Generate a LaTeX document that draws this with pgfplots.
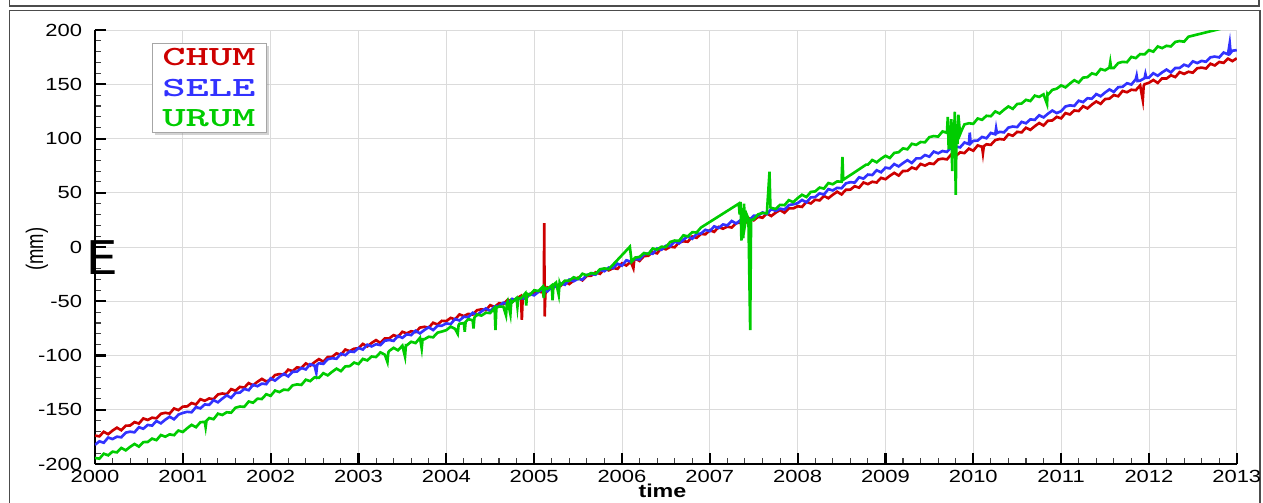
\documentclass[border=0pt]{standalone}
\usepackage{pgfplots}
\pgfplotsset{compat=1.18}
\usepackage{fontspec}
\setmainfont{Liberation Sans}[FakeStretch=1.25]
\newfontfamily\plainsans{Liberation Sans}
\usetikzlibrary{shadows}
\definecolor{chum}{RGB}{205,0,0}
\definecolor{sele}{RGB}{50,50,255}
\definecolor{urum}{RGB}{0,204,0}

\begin{document}
\begin{tikzpicture}[x=0.02cm,y=0.02cm]
\path[use as bounding box] (0,0) rectangle (1263,503);
% outer frames
\draw[line width=0.8pt, black!70] (9.5,506) -- (9.5,497) -- (1259,497) -- (1259,506);
\draw[line width=0.8pt, black!70] (9.5,-3) -- (9.5,492.3) -- (1260,492.3) -- (1260,-3);

\begin{axis}[
    at={(1.9cm,0.78cm)}, anchor=south west,
    scale only axis, width=22.84cm, height=8.68cm,
    xmin=2000, xmax=2013, ymin=-200, ymax=200,
    axis lines*=left,
    axis line style={-, line width=1.2pt, black},
    xtick={2000,2001,2002,2003,2004,2005,2006,2007,2008,2009,2010,2011,2012,2013},
    xticklabels={2000,2001,2002,2003,2004,2005,2006,2007,2008,2009,2010,2011,2012,2013},
    ytick={-200,-150,-100,-50,0,50,100,150,200},
    yticklabels={-200,-150,-100,-50,0,50,100,150,200},
    minor x tick num=4, minor y tick num=4,
    tick align=inside,
    major tick length=0.22cm, minor tick length=0.12cm,
    every major tick/.append style={line width=1.2pt, black},
    every minor tick/.append style={line width=0.6pt, black!75},
    xmajorgrids, ymajorgrids,
    grid style={line width=0.5pt, black!14},
    tick label style={font=\fontsize{10}{12}\selectfont},
    yticklabel style={xshift=-3.8pt},
    xlabel={time},
    every axis x label/.style={at={(axis description cs:0.497,-0.0622)}, anchor=center,
        font=\bfseries\fontsize{10.6}{12}\selectfont},
    ylabel={\scalebox{1}[1.3]{\plainsans (mm)}},
    every axis y label/.style={at={(axis description cs:-0.0508,0.495)}, rotate=90, anchor=center,
        font=\fontsize{10.5}{12}\selectfont},
]
% CHUM
\addplot[chum, line width=1.5pt] coordinates {
(2000.00,-173.8) (2000.05,-174.5) (2000.10,-170.3) (2000.15,-172.5) (2000.20,-169.2)
(2000.25,-166.5) (2000.30,-168.9) (2000.35,-164.7) (2000.40,-164.5) (2000.45,-161.4)
(2000.50,-162.7) (2000.55,-158.0) (2000.60,-159.4) (2000.65,-157.3) (2000.70,-157.9)
(2000.75,-153.7) (2000.80,-152.8) (2000.85,-153.5) (2000.90,-148.8) (2000.95,-150.3)
(2001.00,-147.1) (2001.05,-146.9) (2001.10,-143.8) (2001.15,-145.1) (2001.20,-140.3)
(2001.25,-141.7) (2001.30,-139.6) (2001.35,-140.2) (2001.40,-135.9) (2001.45,-135.0)
(2001.50,-135.7) (2001.55,-131.0) (2001.60,-132.4) (2001.65,-128.9) (2001.70,-129.6)
(2001.75,-125.4) (2001.80,-127.5) (2001.85,-124.2) (2001.90,-121.5) (2001.95,-123.9)
(2002.00,-122.3) (2002.05,-118.0) (2002.10,-117.1) (2002.15,-117.7) (2002.20,-113.0)
(2002.25,-114.4) (2002.30,-110.9) (2002.35,-111.5) (2002.40,-107.3) (2002.45,-109.4)
(2002.50,-106.1) (2002.55,-103.3) (2002.60,-105.7) (2002.65,-101.4) (2002.70,-101.2)
(2002.75,-98.0) (2002.80,-99.3) (2002.85,-94.5) (2002.90,-95.9) (2002.95,-93.7)
(2003.00,-93.3) (2003.05,-89.3) (2003.10,-91.6) (2003.15,-88.4) (2003.20,-85.8)
(2003.25,-88.4) (2003.30,-84.3) (2003.35,-84.2) (2003.40,-81.2) (2003.45,-82.7)
(2003.50,-78.1) (2003.55,-79.6) (2003.60,-77.6) (2003.65,-78.4) (2003.70,-74.3)
(2003.75,-73.5) (2003.80,-74.3) (2003.85,-69.8) (2003.90,-71.4) (2003.95,-68.0)
(2004.00,-68.3) (2004.05,-65.3) (2004.10,-66.7) (2004.15,-62.1) (2004.20,-63.6)
(2004.25,-61.6) (2004.30,-62.3) (2004.35,-58.2) (2004.40,-57.4) (2004.45,-58.2)
(2004.50,-53.6) (2004.55,-55.2) (2004.60,-51.8) (2004.65,-52.6) (2004.70,-48.5)
(2004.75,-50.8) (2004.80,-47.6) (2004.85,-45.0) (2004.86,-67) (2004.87,-46.5)
(2004.90,-47.5) (2004.95,-43.4)
(2005.00,-41.9) (2005.05,-41.1) (2005.10,-41.8)
(2005.11,-46) (2005.115,22) (2005.12,-64) (2005.125,-50) (2005.13,-41)
(2005.15,-37.2) (2005.20,-38.7) (2005.25,-35.3) (2005.30,-36.0) (2005.35,-31.9)
(2005.40,-34.1) (2005.45,-30.9) (2005.50,-28.2) (2005.55,-30.7) (2005.60,-26.5)
(2005.65,-26.4) (2005.70,-23.3) (2005.75,-24.7) (2005.80,-20.0) (2005.85,-21.5)
(2005.90,-19.4) (2005.95,-20.1)
(2006.00,-15.0) (2006.05,-17.0) (2006.10,-13.5) (2006.13,-19.5) (2006.14,-12)
(2006.15,-10.6) (2006.20,-12.8) (2006.25,-8.4) (2006.30,-8.0) (2006.35,-4.7)
(2006.40,-5.8) (2006.45,-0.9) (2006.50,-2.1) (2006.55,0.3) (2006.60,-0.2)
(2006.65,4.3) (2006.70,5.3) (2006.75,4.9) (2006.80,9.7) (2006.85,8.5)
(2006.90,12.1) (2006.95,11.7)
(2007.00,15.5) (2007.05,14.0) (2007.10,18.5) (2007.15,16.9) (2007.20,18.8)
(2007.25,18.0) (2007.30,22.0) (2007.35,22.7) (2007.40,21.8) (2007.45,26.3)
(2007.50,24.6) (2007.55,27.9) (2007.60,27.0) (2007.65,31.0) (2007.70,28.6)
(2007.75,31.7) (2007.80,34.2) (2007.85,31.6) (2007.90,35.6) (2007.95,35.6)
(2008.00,37.6) (2008.05,37.0) (2008.10,41.6) (2008.15,40.2) (2008.20,43.6)
(2008.25,43.0) (2008.30,47.1) (2008.35,45.0) (2008.40,48.2) (2008.45,51.0)
(2008.50,48.5) (2008.55,52.8) (2008.60,52.9) (2008.65,56.1) (2008.70,54.7)
(2008.75,59.5) (2008.80,58.0) (2008.85,60.2) (2008.90,59.5) (2008.95,63.8)
(2009.00,62.5) (2009.05,65.7) (2009.10,68.4) (2009.15,65.9) (2009.20,70.1)
(2009.25,70.2) (2009.30,73.3) (2009.35,71.9) (2009.40,76.6) (2009.45,75.1)
(2009.50,77.2) (2009.55,76.5) (2009.60,80.7) (2009.65,81.5) (2009.70,80.8)
(2009.75,85.4) (2009.80,83.9) (2009.85,87.3) (2009.90,86.6) (2009.95,90.7)
(2010.00,88.8) (2010.05,93.7) (2010.10,92.4) (2010.11,86.5) (2010.12,93.0)
(2010.15,94.7) (2010.20,94.2) (2010.25,98.6) (2010.30,99.6) (2010.35,99.1)
(2010.40,103.9) (2010.45,102.6) (2010.50,106.2) (2010.55,105.7) (2010.60,110.0)
(2010.65,108.0) (2010.70,111.4) (2010.75,114.3) (2010.80,112.0) (2010.85,116.4)
(2010.90,116.7) (2010.95,120.0)
(2011.00,118.6) (2011.05,123.5) (2011.10,122.2) (2011.15,125.9) (2011.20,125.4)
(2011.25,129.8) (2011.30,127.8) (2011.35,131.3) (2011.40,134.2) (2011.45,132.0)
(2011.50,136.4) (2011.55,136.8) (2011.60,140.1) (2011.65,139.0) (2011.70,143.9)
(2011.75,142.7) (2011.80,145.0) (2011.85,144.6) (2011.90,149.0) (2011.93,135.5)
(2011.94,148.5) (2011.95,150.1)
(2012.00,151.4) (2012.05,154.0) (2012.10,151.3) (2012.15,155.4) (2012.20,155.3)
(2012.25,158.3) (2012.30,156.7) (2012.35,161.3) (2012.40,159.6) (2012.45,161.6)
(2012.50,160.7) (2012.55,164.8) (2012.60,165.4) (2012.65,164.6) (2012.70,169.0)
(2012.75,167.4) (2012.80,170.6) (2012.85,169.8) (2012.90,173.7) (2012.95,171.4)
(2013.00,174.0)
};
% SELE
\addplot[sele, line width=1.5pt] coordinates {
(2000.00,-182.3) (2000.05,-179.1) (2000.10,-180.4) (2000.15,-175.6) (2000.20,-177.0)
(2000.25,-174.8) (2000.30,-175.4) (2000.35,-171.1) (2000.40,-170.2) (2000.45,-170.8)
(2000.50,-166.1) (2000.55,-167.5) (2000.60,-164.0) (2000.65,-164.6) (2000.70,-160.4)
(2000.75,-162.5) (2000.80,-159.2) (2000.85,-156.4) (2000.90,-158.8) (2000.95,-154.5)
(2001.00,-152.9) (2001.05,-151.9) (2001.10,-152.3) (2001.15,-147.5) (2001.20,-148.7)
(2001.25,-145.1) (2001.30,-145.5) (2001.35,-141.2) (2001.40,-143.1) (2001.45,-139.7)
(2001.50,-136.7) (2001.55,-139.0) (2001.60,-134.5) (2001.65,-134.2) (2001.70,-130.8)
(2001.75,-132.0) (2001.80,-127.0) (2001.85,-128.3) (2001.90,-125.9) (2001.95,-126.4)
(2002.00,-121.0) (2002.05,-123.1) (2002.10,-119.8) (2002.15,-116.9) (2002.20,-119.3)
(2002.25,-115.0) (2002.30,-114.8) (2002.35,-111.5) (2002.40,-112.8) (2002.45,-108.0)
(2002.50,-109.4) (2002.52,-116) (2002.53,-108.5)
(2002.55,-107.1) (2002.60,-107.7) (2002.65,-103.4) (2002.70,-102.5) (2002.75,-103.0)
(2002.80,-98.3) (2002.85,-99.7) (2002.90,-96.2) (2002.95,-96.7)
(2003.00,-93.0) (2003.05,-94.5) (2003.10,-90.0) (2003.15,-91.6) (2003.20,-89.6)
(2003.25,-90.4) (2003.30,-86.4) (2003.35,-85.7) (2003.40,-86.5) (2003.45,-82.0)
(2003.50,-83.7) (2003.55,-80.4) (2003.60,-81.2) (2003.65,-77.2) (2003.70,-79.6)
(2003.75,-76.5) (2003.80,-73.9) (2003.85,-76.5) (2003.90,-72.5) (2003.95,-72.5)
(2004.00,-70.4) (2004.05,-71.0) (2004.10,-66.3) (2004.15,-67.7) (2004.20,-64.2)
(2004.25,-64.8) (2004.30,-60.6) (2004.35,-62.7) (2004.40,-59.4) (2004.45,-56.6)
(2004.50,-59.0) (2004.55,-54.7) (2004.60,-54.5) (2004.65,-51.3) (2004.70,-52.6)
(2004.75,-47.8) (2004.80,-49.2) (2004.85,-47.0) (2004.90,-47.6) (2004.95,-43.3)
(2005.00,-44.5) (2005.05,-41.3) (2005.10,-38.5) (2005.15,-41.0) (2005.20,-36.7)
(2005.25,-36.6) (2005.30,-33.4) (2005.35,-34.8) (2005.40,-30.0) (2005.45,-31.5)
(2005.50,-29.3) (2005.55,-30.0) (2005.60,-25.7) (2005.65,-24.9) (2005.70,-25.5)
(2005.75,-20.9) (2005.80,-22.3) (2005.85,-18.9) (2005.90,-19.5) (2005.95,-15.4)
(2006.00,-17.2) (2006.05,-12.2) (2006.10,-13.4) (2006.15,-11.0) (2006.20,-11.4)
(2006.25,-6.9) (2006.30,-5.8) (2006.35,-6.2) (2006.40,-1.3) (2006.45,-2.5)
(2006.50,1.2) (2006.55,0.8) (2006.60,5.2) (2006.65,3.3) (2006.70,6.8)
(2006.75,9.8) (2006.80,7.6) (2006.85,12.1) (2006.90,12.5) (2006.95,15.9)
(2007.00,14.6) (2007.05,19.1) (2007.10,17.5) (2007.15,20.8) (2007.20,20.0)
(2007.25,24.0) (2007.30,21.7) (2007.35,24.8) (2007.40,27.4) (2007.45,24.8)
(2007.50,28.9) (2007.55,28.9) (2007.60,31.9) (2007.65,30.4) (2007.70,35.0)
(2007.75,33.4) (2007.80,35.4) (2007.85,34.6) (2007.90,38.7) (2007.95,39.4)
(2008.00,40.4) (2008.05,43.4) (2008.10,41.2) (2008.15,45.7) (2008.20,46.1)
(2008.25,49.5) (2008.30,48.4) (2008.35,53.4) (2008.40,52.2) (2008.45,54.6)
(2008.50,54.2) (2008.55,58.7) (2008.60,59.8) (2008.65,59.4) (2008.70,64.3)
(2008.75,63.1) (2008.80,66.8) (2008.85,66.4) (2008.90,70.8) (2008.95,68.9)
(2009.00,73.2) (2009.05,72.5) (2009.10,76.5) (2009.15,74.3) (2009.20,77.4)
(2009.25,80.1) (2009.30,77.5) (2009.35,81.7) (2009.40,81.7) (2009.45,84.8)
(2009.50,83.3) (2009.55,88.0) (2009.60,86.4) (2009.65,88.5) (2009.70,87.7)
(2009.75,91.9) (2009.80,92.6) (2009.85,91.9) (2009.90,96.4) (2009.95,94.9)
(2009.96,105.5) (2009.97,95.5)
(2010.00,97.9) (2010.05,98.2) (2010.10,101.5) (2010.15,100.3) (2010.20,105.2)
(2010.25,103.9) (2010.26,109.5) (2010.27,105.0)
(2010.30,106.2) (2010.35,105.7) (2010.40,110.1) (2010.45,111.1) (2010.50,110.6)
(2010.55,115.4) (2010.60,114.1) (2010.65,117.7) (2010.70,117.2) (2010.75,121.5)
(2010.80,119.5) (2010.85,122.9) (2010.90,125.8) (2010.95,123.5)
(2011.00,125.2) (2011.05,129.6) (2011.10,130.6) (2011.15,130.1) (2011.20,134.9)
(2011.25,133.6) (2011.30,137.2) (2011.35,136.7) (2011.40,141.0) (2011.45,139.0)
(2011.50,142.4) (2011.55,145.3) (2011.60,143.0) (2011.65,147.4) (2011.70,147.7)
(2011.75,151.0) (2011.80,149.8) (2011.85,154.7) (2011.86,158.0) (2011.87,153.0)
(2011.90,153.4) (2011.95,155.7) (2011.96,159.5) (2011.97,156.0)
(2012.00,156.2) (2012.05,160.2) (2012.10,157.9) (2012.15,161.0) (2012.20,163.6)
(2012.25,161.0) (2012.30,165.1) (2012.35,165.1) (2012.40,168.1) (2012.45,166.6)
(2012.50,171.2) (2012.55,169.6) (2012.60,171.6) (2012.65,170.8) (2012.70,174.9)
(2012.75,175.6) (2012.80,174.8) (2012.85,179.3) (2012.90,177.7) (2012.92,188.0)
(2012.93,179.0) (2012.95,181.0)
(2013.00,181.5)
};
% URUM
\addplot[urum, line width=1.5pt] coordinates {
(2000.00,-194.4) (2000.05,-195.1) (2000.10,-190.5) (2000.15,-192.0) (2000.20,-188.6)
(2000.25,-189.3) (2000.30,-185.2) (2000.35,-187.4) (2000.40,-184.2) (2000.45,-181.5)
(2000.50,-184.0) (2000.55,-179.8) (2000.60,-179.7) (2000.65,-176.6) (2000.70,-178.0)
(2000.75,-173.3) (2000.80,-174.8) (2000.85,-172.7) (2000.90,-173.4) (2000.95,-169.2)
(2001.00,-170.5) (2001.05,-167.0) (2001.10,-163.9) (2001.15,-166.1) (2001.20,-161.5)
(2001.25,-161.1) (2001.26,-166.0) (2001.27,-160.0)
(2001.30,-157.6) (2001.35,-158.7) (2001.40,-153.6) (2001.45,-154.8) (2001.50,-152.3)
(2001.55,-152.7) (2001.60,-148.1) (2001.65,-147.0) (2001.70,-147.3) (2001.75,-142.4)
(2001.80,-143.5) (2001.85,-139.8) (2001.90,-140.1) (2001.95,-135.7)
(2002.00,-137.2) (2002.05,-132.3) (2002.10,-133.7) (2002.15,-131.4) (2002.20,-131.9)
(2002.25,-127.5) (2002.30,-126.6) (2002.35,-127.1) (2002.40,-122.3) (2002.45,-123.6)
(2002.50,-120.1) (2002.55,-120.6) (2002.60,-116.3) (2002.65,-118.3) (2002.70,-115.0)
(2002.75,-112.1) (2002.80,-114.4) (2002.85,-110.0) (2002.90,-109.8) (2002.95,-106.5)
(2003.00,-107.9) (2003.05,-103.1) (2003.10,-104.5) (2003.15,-100.9) (2003.20,-101.4)
(2003.25,-97.1) (2003.30,-99.2) (2003.33,-106.0) (2003.34,-97.0)
(2003.35,-95.8) (2003.40,-92.9) (2003.45,-95.2) (2003.50,-90.9) (2003.53,-101.0)
(2003.54,-90.5) (2003.55,-90.6) (2003.60,-87.3) (2003.65,-88.5) (2003.70,-83.7)
(2003.72,-93.5) (2003.73,-85.0)
(2003.75,-85.0) (2003.80,-82.7) (2003.85,-83.2) (2003.90,-78.9) (2003.95,-77.9)
(2004.00,-76.6) (2004.05,-73.4) (2004.10,-75.4) (2004.13,-80.0) (2004.14,-72.0)
(2004.15,-70.7) (2004.20,-70.1) (2004.21,-78.0) (2004.22,-69.0)
(2004.25,-66.5) (2004.30,-67.4) (2004.31,-75.0) (2004.32,-65.0)
(2004.35,-62.2) (2004.40,-63.2) (2004.45,-60.6) (2004.50,-60.8) (2004.55,-56.1)
(2004.56,-76.5) (2004.57,-56.0)
(2004.60,-54.8) (2004.65,-55.0) (2004.68,-63.0) (2004.69,-52.0)
(2004.70,-49.9) (2004.73,-62.0) (2004.74,-50.0)
(2004.75,-50.9) (2004.80,-47.0) (2004.81,-55.0) (2004.82,-47.0)
(2004.85,-47.2) (2004.90,-42.6) (2004.91,-54.0) (2004.92,-43.0) (2004.95,-44.3)
(2005.00,-39.8) (2005.05,-40.5) (2005.10,-36.4) (2005.11,-47.0) (2005.12,-37.5)
(2005.15,-38.6) (2005.20,-35.4) (2005.21,-49.0) (2005.22,-35.0)
(2005.25,-32.7) (2005.28,-44.0) (2005.29,-33.0)
(2005.30,-35.2) (2005.35,-31.0) (2005.40,-30.9) (2005.45,-27.9) (2005.50,-29.3)
(2005.55,-24.6) (2005.60,-26.1) (2005.65,-24.0) (2005.70,-24.7) (2005.75,-20.5)
(2005.80,-19.7) (2005.85,-20.4)
(2006.09,0.3) (2006.11,-13.5)
(2006.15,-9.7) (2006.20,-9.1) (2006.25,-5.5) (2006.30,-6.5) (2006.35,-1.3)
(2006.40,-2.3) (2006.45,0.3) (2006.50,0.0) (2006.55,4.7) (2006.60,6.0)
(2006.65,5.8) (2006.70,10.8) (2006.75,9.8) (2006.80,13.7) (2006.85,13.4)
(2006.90,18.0)
(2007.33,40) (2007.34,30) (2007.35,41.7) (2007.36,6) (2007.37,36) (2007.38,8)
(2007.39,40) (2007.40,20) (2007.42,30) (2007.44,26) (2007.46,-76.5) (2007.47,25)
(2007.50,25.5) (2007.55,30.1) (2007.60,31.4) (2007.65,31.1) (2007.68,69.4)
(2007.69,36.5) (2007.70,36.1) (2007.75,35.1) (2007.80,38.9) (2007.85,38.6)
(2007.90,43.2) (2007.95,41.4) (2008.00,45.1) (2008.05,48.2) (2008.10,46.1)
(2008.15,50.8) (2008.20,51.3) (2008.25,54.8) (2008.30,53.9) (2008.35,59.0)
(2008.40,57.9) (2008.45,60.5) (2008.50,60.2) (2008.51,83.0) (2008.52,62.0)
(2008.78,76.0) (2008.80,76.0) (2008.85,80.2) (2008.90,78.1) (2008.95,81.4)
(2009.00,84.1) (2009.05,82.1) (2009.10,86.8) (2009.15,87.4) (2009.20,91.0)
(2009.25,90.1) (2009.30,95.2) (2009.35,94.2) (2009.40,96.8) (2009.45,96.6)
(2009.50,101.3) (2009.55,102.3) (2009.60,101.8) (2009.65,106.6) (2009.70,105.3)
(2009.71,120) (2009.72,90) (2009.73,112) (2009.74,96) (2009.75,118) (2009.76,70)
(2009.77,115) (2009.78,100) (2009.79,124.7) (2009.80,48) (2009.81,110) (2009.82,95)
(2009.83,122) (2009.85,104) (2009.87,108)
(2009.90,113.1) (2009.95,114.1) (2010.00,113.6) (2010.05,118.5) (2010.10,117.3)
(2010.15,121.0) (2010.20,120.6) (2010.25,125.0) (2010.30,123.1) (2010.35,126.6)
(2010.40,129.6) (2010.45,127.4) (2010.50,131.9) (2010.55,132.3) (2010.60,135.7)
(2010.65,134.6) (2010.70,139.6) (2010.75,138.4) (2010.80,140.8) (2010.84,131.8)
(2010.845,141.0) (2010.85,140.4) (2010.90,144.9) (2010.95,146.0)
(2011.00,149.0) (2011.05,147.2) (2011.10,150.7) (2011.15,153.8) (2011.20,151.6)
(2011.25,156.2) (2011.30,156.6) (2011.35,160.1) (2011.40,159.0) (2011.45,164.1)
(2011.50,162.9) (2011.55,165.4) (2011.56,170.5) (2011.57,165.0)
(2011.60,165.0) (2011.65,169.6) (2011.70,170.7) (2011.75,170.4) (2011.80,175.3)
(2011.85,174.2) (2011.90,177.9) (2011.95,177.6)
(2012.00,181.5) (2012.05,180.1) (2012.10,184.9) (2012.15,183.4) (2012.20,185.5)
(2012.25,184.9) (2012.30,189.1) (2012.35,189.9) (2012.40,189.3) (2012.45,193.9)
(2012.78,200.5) (2012.90,203.0) (2013.00,207.0)
};
% legend box
\node[draw=black!35, fill=white, drop shadow={shadow xshift=1.5pt, shadow yshift=-1.5pt, opacity=0.35},
      minimum width=2.28cm, minimum height=1.78cm, inner sep=0pt, align=center,
      font=\ttfamily\bfseries\fontsize{15.8}{17.6}\selectfont]
      at (axis description cs:0.0998,0.8675)
      {\scalebox{1.6}[1]{\textcolor{chum}{CHUM}}\\\scalebox{1.6}[1]{\textcolor{sele}{SELE}}\\\scalebox{1.6}[1]{\textcolor{urum}{URUM}}};
\end{axis}

% stray E glyph at the left of the axis
\node[inner sep=0pt, font=\plainsans\fontsize{28}{28}\selectfont] at (102,245.5) {\scalebox{0.9}[1]{E}};
\end{tikzpicture}
\end{document}
